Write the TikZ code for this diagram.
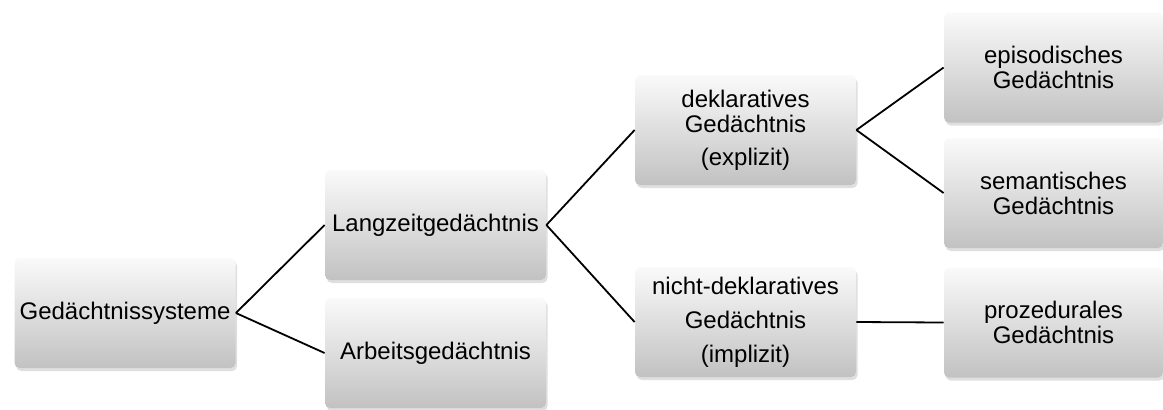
\documentclass[tikz,border=0pt]{standalone}
\usepackage{fontspec}
\setmainfont{Liberation Sans}
\usetikzlibrary{
  shadows,      % drop shadow under the boxes
}
\tikzset{
  % one unit = one pixel of the reference
  px/.style={x=0.5pt,y=-0.5pt},
  memory box/.style={
    rectangle,
    rounded corners=2.5pt,
    minimum width=110.5pt,
    minimum height=55pt,
    inner sep=2pt,
    align=center,
    top color=black!2,
    bottom color=black!24,
    drop shadow={opacity=0.25,shadow xshift=0.8pt,shadow yshift=-1.5pt},
    font=\fontsize{12}{12.5}\selectfont
  },
  leaf box/.style={
    memory box,
    minimum width=109.5pt
  },
  link/.style={
    draw,
    line width=0.9pt
  }
}

\begin{document}
\begin{tikzpicture}[px]
\useasboundingbox (0,0) rectangle (1163,409);
\node[memory box] (sys)   at (125,313)    {Gedächtnissysteme};
\node[memory box] (lzg)   at (435.5,225)  {Langzeitgedächtnis};
\node[memory box] (ag)    at (435.5,353)  {Arbeitsgedächtnis};
\node[memory box] (dekl)  at (745.5,130)  {deklaratives\\Gedächtnis\\[4pt](explizit)};
\node[memory box] (ndekl) at (745.5,322)  {nicht-deklaratives\\[4.5pt]Gedächtnis\\[4.5pt](implizit)};
\node[leaf box]   (epi)   at (1053.5,67.5){episodisches\\Gedächtnis};
\node[leaf box]   (sem)   at (1053.5,193) {semantisches\\Gedächtnis};
\node[leaf box]   (proz)  at (1053.5,322.5){prozedurales\\Gedächtnis};
\path[link] (sys.east)   -- (lzg.west)
            (sys.east)   -- (ag.west)
            (lzg.east)   -- (dekl.west)
            (lzg.east)   -- (ndekl.west)
            (dekl.east)  -- (epi.west)
            (dekl.east)  -- (sem.west)
            (ndekl.east) -- (proz.west);
\end{tikzpicture}
\end{document}
